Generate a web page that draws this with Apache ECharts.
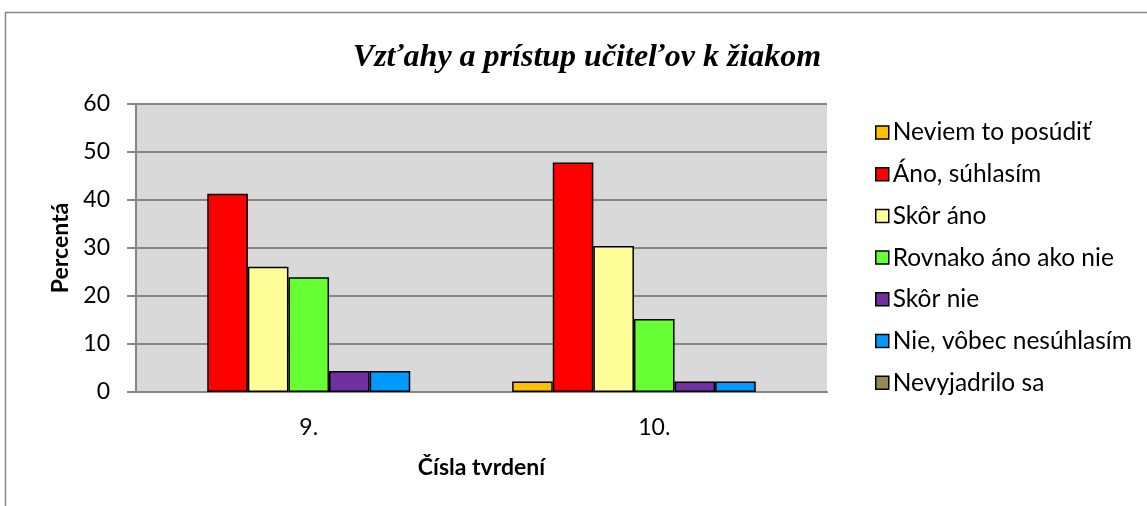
<!DOCTYPE html>
<html><head><meta charset="utf-8">
<script src="https://cdn.jsdelivr.net/npm/echarts@6/dist/echarts.min.js"></script>
<style>html,body{margin:0;padding:0;background:#fff}#c{width:1147px;height:506px}</style>
</head><body><div id="c"></div>
<script>
const categories = ['9.', '10.'];
const seriesNames = ['Neviem to posúdiť','Áno, súhlasím','Skôr áno','Rovnako áno ako nie','Skôr nie','Nie, vôbec nesúhlasím','Nevyjadrilo sa'];
const neviem = [0, 2.17];
const ano = [41.30, 47.83];
const skorAno = [26.09, 30.43];
const rovnako = [23.91, 15.22];
const skorNie = [4.35, 2.17];
const nie = [4.35, 2.17];
const nevyjadrilo = [0, 0];
const yTicks = [0, 10, 20, 30, 40, 50, 60];
const colors = ['#FFC000','#FF0000','#FFFF99','#66FF33','#7030A0','#0099FF','#938953'];
const values = [neviem, ano, skorAno, rovnako, skorNie, nie, nevyjadrilo];

const chart = echarts.init(document.getElementById('c'), null, {renderer:'canvas'});
const font = 'Lato, "Open Sans", sans-serif';
chart.setOption({
  animation: false,
  graphic: [{type:'rect', shape:{x:5.5,y:12.5,width:1160,height:520}, style:{fill:'none', stroke:'#868686', lineWidth:1.5}, silent:true}],
  title: {text:'Vzťahy a prístup učiteľov k žiakom', left:582, top:37, textAlign:'center',
    textStyle:{fontFamily:'"Liberation Serif", serif', fontStyle:'italic', fontWeight:'bold', fontSize:32, color:'#000'}},
  grid: {left:136, top:104, width:691, height:288, containLabel:false, show:true, backgroundColor:'#D9D9D9', borderWidth:0},
  legend: {orient:'vertical', left:870, top:115, itemWidth:13, itemHeight:13, itemGap:16.7, icon:'rect',
    data: seriesNames.map(n=>({name:n, itemStyle:{borderColor:'#000', borderWidth:1.5}})),
    textStyle:{fontFamily:font, fontSize:24.5, color:'#000', padding:[0,0,0,-1]}},
  xAxis: {type:'category', data:categories,
    axisLine:{show:true, lineStyle:{color:'#868686', width:2}}, axisTick:{show:false},
    axisLabel:{fontFamily:font, fontSize:23, color:'#000', margin:24},
    name:'Čísla tvrdení', nameLocation:'middle', nameGap:64,
    nameTextStyle:{fontFamily:font, fontSize:23, fontWeight:'bold', color:'#000'}},
  yAxis: {type:'value', min:yTicks[0], max:yTicks[yTicks.length-1], interval:10,
    axisLine:{show:true, lineStyle:{color:'#868686', width:2}},
    axisTick:{show:true, length:9, lineStyle:{color:'#868686', width:2}},
    splitLine:{show:true, lineStyle:{color:'#868686', width:2}},
    axisLabel:{fontFamily:font, fontSize:23, color:'#000', margin:26},
    name:'Percentá', nameLocation:'middle', nameGap:62, nameRotate:90,
    nameTextStyle:{fontFamily:font, fontSize:23, fontWeight:'bold', color:'#000'}},
  series: seriesNames.map((n,i)=>({
    name:n, type:'bar', data:values[i].map(v => v === 0 ? '-' : v), barWidth:40.6, barGap:'0%',
    itemStyle:{color:colors[i], borderColor:'#000', borderWidth:1.5}
  }))
});
</script></body></html>
